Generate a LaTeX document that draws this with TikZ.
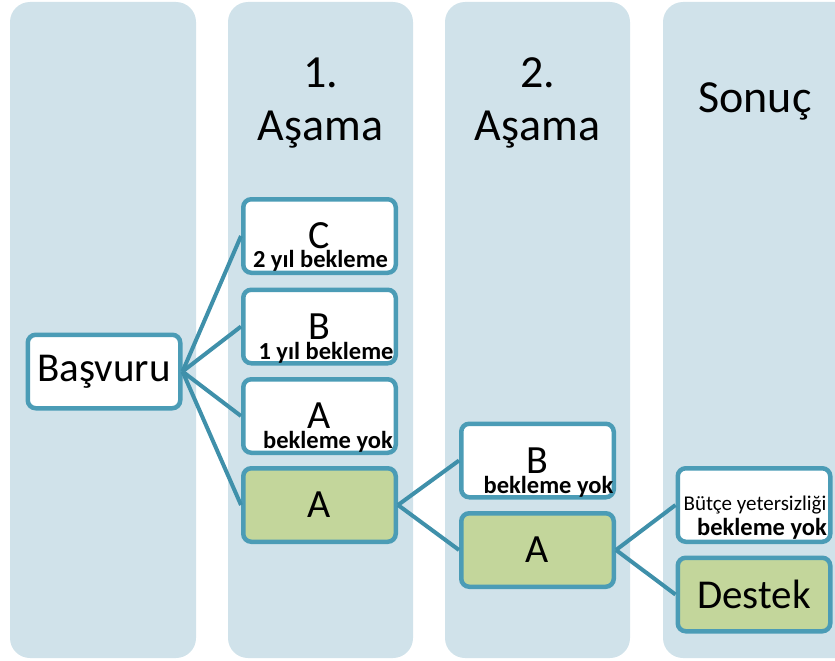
\documentclass[tikz,border=0pt]{standalone}
\usepackage{fontspec}
\setmainfont{Carlito}
\usetikzlibrary{positioning}
\definecolor{colbg}{HTML}{D0E2EA}
\definecolor{boxline}{HTML}{4B9CB6}
\definecolor{linkline}{HTML}{3F90AA}
\definecolor{boxgreen}{HTML}{C3D69B}

\begin{document}
\begin{tikzpicture}[x=1pt,y=-1pt,
    column/.style={fill=colbg,rounded corners=20pt},
    stage/.style={draw=boxline,line width=4.5pt,rounded corners=8pt,fill=white,
      minimum width=152.5pt,minimum height=73.5pt,inner sep=0pt,
      font=\fontsize{40}{42}\selectfont},
    done/.style={stage,fill=boxgreen},
    sub/.style={anchor=base,inner sep=0pt,font=\bfseries\fontsize{24.5}{26}\selectfont},
    head/.style={align=center,anchor=base,font=\fontsize{46}{53}\selectfont},
    link/.style={draw=linkline,line width=4pt}]
        \useasboundingbox (0,0) rectangle (835,661);
        \clip (0,0) rectangle (835,661);
        % columns
        \fill[column] (10,2) rectangle (196,658);
        \fill[column] (228,2) rectangle (413,658);
        \fill[column] (445,2) rectangle (630,658);
        \fill[column] (663,2) rectangle (880,658);
        \node[head] (h1) at (320.5,140) {1.\\Aşama};
        \node[head] (h2) at (537.5,140) {2.\\Aşama};
        \node[head] (h3) at (755,112) {Sonuç};
        % boxes
        \node[stage,font=\fontsize{41}{43}\selectfont] (basvuru) at (104,371.5) {Başvuru};
        \node[stage] (c1) at (319.5,236) {\raisebox{-2pt}{C}};
        \node[stage] (b1) at (319.5,326.5) {B};
        \node[stage] (a1) at (319.5,416) {A};
        \node[done] (a1g) at (319.5,505) {A};
        \node[stage] (b2) at (537.5,460.5) {B};
        \node[done] (a2g) at (537.5,550) {A};
        \node[stage] (butce) at (754,505) {};
        \node[done,font=\fontsize{41}{43}\selectfont] (destek) at (754,594.5) {Destek};
        % waiting times
        \node[sub] (c1sub) at ([xshift=1,yshift=8]c1.south) {2 yıl bekleme};
        \node[sub] (b1sub) at ([xshift=6.5,yshift=6]b1.south) {1 yıl bekleme};
        \node[sub] (a1sub) at ([xshift=8.5,yshift=7]a1.south) {bekleme yok};
        \node[sub] (b2sub) at ([xshift=11,yshift=6.5]b2.south) {bekleme yok};
        \node[sub,font=\fontsize{21}{23}\selectfont] (butcetxt) at ([xshift=1,yshift=-5]butce.center) {Bütçe yetersizliği};
        \node[sub] (butcesub) at ([xshift=8,yshift=8.5]butce.south) {bekleme yok};
        % links
        \draw[link] (basvuru.east) -- (c1.west);
        \draw[link] (basvuru.east) -- (b1.west);
        \draw[link] (basvuru.east) -- (a1.west);
        \draw[link] (basvuru.east) -- (a1g.west);
        \draw[link] (a1g.east) -- (b2.west);
        \draw[link] (a1g.east) -- (a2g.west);
        \draw[link] (a2g.east) -- (butce.west);
        \draw[link] (a2g.east) -- (destek.west);
    \end{tikzpicture}
\end{document}
